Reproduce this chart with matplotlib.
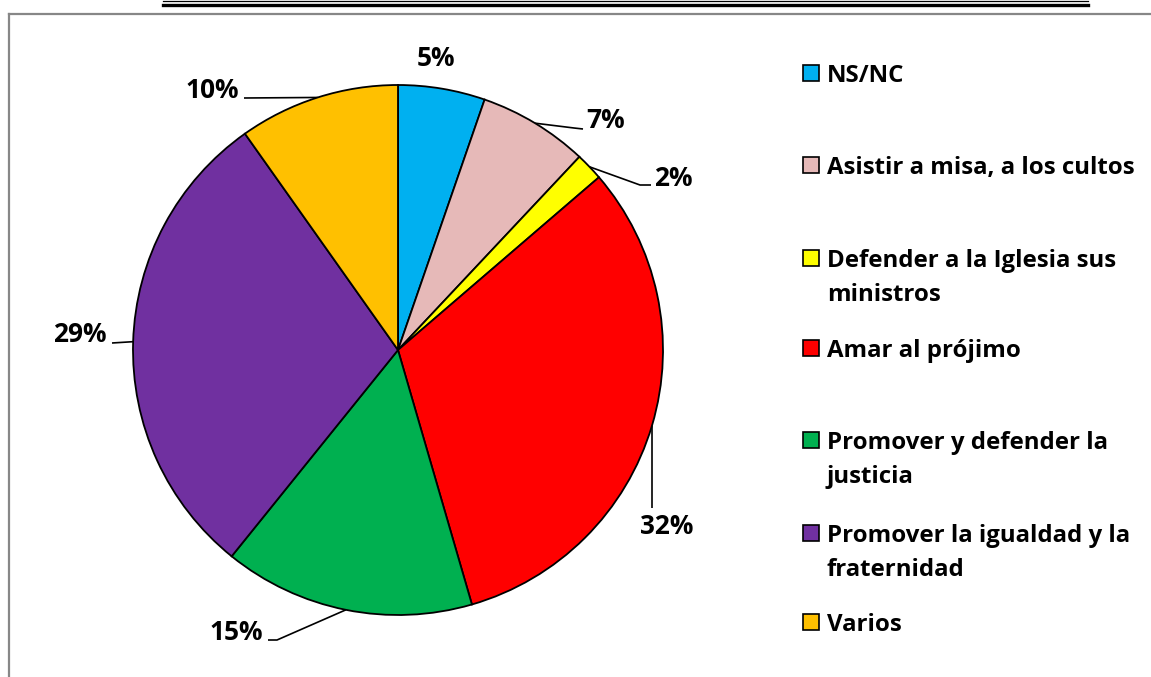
import matplotlib
matplotlib.use("Agg")
import matplotlib.pyplot as plt
from matplotlib.patches import Rectangle
from matplotlib.lines import Line2D
import numpy as np

W, H = 1151, 677

categories = ["NS/NC", "Asistir a misa, a los cultos", "Defender a la Iglesia sus\nministros",
              "Amar al prójimo", "Promover y defender la\njusticia",
              "Promover la igualdad y la\nfraternidad", "Varios"]
values = [5.3, 6.7, 1.7, 31.8, 15.3, 29.4, 9.8]
colors = ["#00B0F0", "#E6B9B8", "#FFFF00", "#FF0000", "#00B050", "#7030A0", "#FFC000"]

# label layout (pixel coords, y from top), in category order
label_layout = [
    dict(elbow=None, end=None, text=(436, 58), ha="center"),          # 5%
    dict(elbow=(574, 128), end=(583, 129), text=(586, 121), ha="left"),  # 7%
    dict(elbow=(640, 185), end=(651, 185), text=(654, 178), ha="left"),  # 2%
    dict(elbow=(652, 508), end=(652, 508), text=(667, 527), ha="center"),  # 32%
    dict(elbow=(277, 640), end=(268, 640), text=(263, 632), ha="right"),  # 15%
    dict(elbow=(112, 343), end=(112, 343), text=(107, 334), ha="right"),  # 29%
    dict(elbow=(244, 98), end=(244, 98), text=(239, 90), ha="right"),    # 10%
]

FONT = "Open Sans"

fig = plt.figure(figsize=(W / 100, H / 100), dpi=100)
ax = fig.add_axes([0, 0, 1, 1])
renderer = fig.canvas.get_renderer()

def fit_size(s, target_px, base=14):
    t = fig.text(0, 0, s, fontsize=base, fontweight="bold", family=FONT)
    w = t.get_window_extent(renderer).width
    t.remove()
    return base * target_px / w

fs_leg = fit_size("Asistir a misa, a los cultos", 309)
fs_pct = fit_size("10%", 54)

def Y(y):
    return H - y

cx, cy, R = 398, 350, 265
wedges, _ = ax.pie(values, colors=colors, startangle=90, counterclock=False,
                   center=(cx, Y(cy)), radius=R, frame=True,
                   wedgeprops=dict(edgecolor="black", linewidth=1.3))
ax.set_xlim(0, W)
ax.set_ylim(0, H)
ax.set_aspect("equal")
ax.axis("off")

total = sum(values)
for w, v, lay in zip(wedges, values, label_layout):
    pct = f"{round(v / total * 100):.0f}%"
    mid = np.deg2rad((w.theta1 + w.theta2) / 2)
    ex, ey = cx + R * np.cos(mid), Y(cy) + R * np.sin(mid)
    if lay["elbow"] is not None:
        xs = [ex, lay["elbow"][0], lay["end"][0]]
        ys = [ey, Y(lay["elbow"][1]), Y(lay["end"][1])]
        ax.plot(xs, ys, color="black", lw=1.2, solid_capstyle="butt", zorder=0)
    tx, ty = lay["text"]
    ax.text(tx, Y(ty), pct, ha=lay["ha"], va="center", fontsize=fs_pct,
            fontweight="bold", family=FONT, color="black")

# legend
leg_rows = [73, 165, 258, 348, 440, 533, 622]
line_gap = 34
for cat, col, ry in zip(categories, colors, leg_rows):
    ax.add_patch(Rectangle((803, Y(ry) - 8), 16, 16, facecolor=col,
                           edgecolor="black", lw=1.2))
    for i, line in enumerate(cat.split("\n")):
        ax.text(827, Y(ry + i * line_gap), line, ha="left", va="center_baseline",
                fontsize=fs_leg, fontweight="bold", family=FONT, color="black")

# frame and top double rule
fig.add_artist(Line2D([9, W], [Y(13.5), Y(13.5)], transform=None, color="#878787", lw=1.6))
fig.add_artist(Line2D([9, 9], [Y(13.5), 0], transform=None, color="#878787", lw=1.6))
fig.add_artist(Line2D([163, 1088], [Y(1), Y(1)], transform=None, color="black", lw=0.9))
fig.add_artist(Line2D([163, 1088], [Y(5), Y(5)], transform=None, color="black", lw=2.4))

fig.savefig("out.png", dpi=100)
